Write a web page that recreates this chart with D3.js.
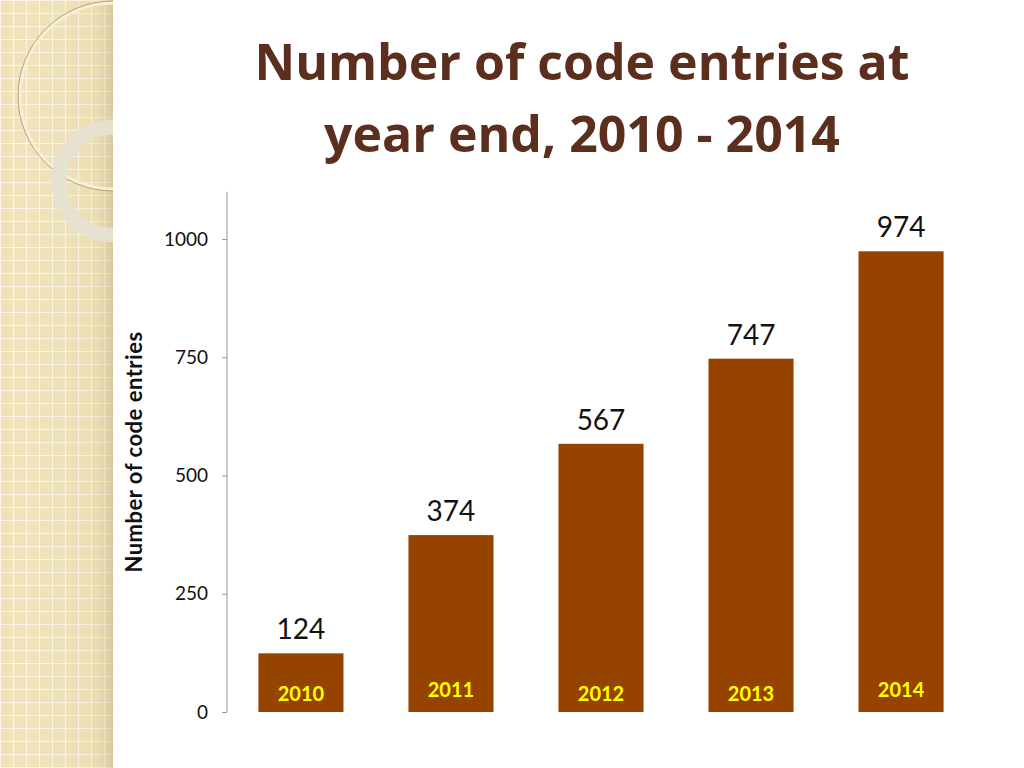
<!DOCTYPE html>
<html><head><meta charset="utf-8">
<script src="https://cdn.jsdelivr.net/npm/d3@7"></script>
<style>body{margin:0;background:#fff}svg{display:block}</style>
</head><body>
<div id="chart"></div>
<script>
// data
const years = ["2010", "2011", "2012", "2013", "2014"];
const entries = [124, 374, 567, 747, 974];
const yTicks = [0, 250, 500, 750, 1000];
const yearLabelShift = [0, -4, 0, 0, -4];

const svg = d3.select("#chart").append("svg")
    .attr("width", 1024).attr("height", 768);

// Decorative left strip
const defs = svg.append("defs");
const grid = defs.append("pattern").attr("id", "grid")
    .attr("width", 13).attr("height", 13).attr("patternUnits", "userSpaceOnUse");
grid.append("rect").attr("width", 13).attr("height", 13).attr("fill", "#efe2b9");
grid.append("path").attr("d", "M0 0.5H13M0.5 0V13").attr("stroke", "#fbf6e6").attr("stroke-width", 1.2);
const shade = defs.append("linearGradient").attr("id", "shade");
shade.append("stop").attr("offset", "0%").attr("stop-color", "#fff").attr("stop-opacity", 0);
shade.append("stop").attr("offset", "85%").attr("stop-color", "#d8c896").attr("stop-opacity", 0.2);
shade.append("stop").attr("offset", "100%").attr("stop-color", "#b9a878").attr("stop-opacity", 0.45);
svg.append("rect").attr("width", 113).attr("height", 768).attr("fill", "url(#grid)");
svg.append("rect").attr("width", 113).attr("height", 768).attr("fill", "url(#shade)");
const deco = svg.append("g");
deco.append("circle").attr("cx", 113).attr("cy", 96).attr("r", 93)
    .attr("fill", "none").attr("stroke", "#f7efd4").attr("stroke-width", 3);
deco.append("circle").attr("cx", 113).attr("cy", 96).attr("r", 95)
    .attr("fill", "none").attr("stroke", "#b9a57a").attr("stroke-width", 1);
deco.append("circle").attr("cx", 113).attr("cy", 181).attr("r", 54)
    .attr("fill", "none").attr("stroke", "#e6e1d3").attr("stroke-width", 15).attr("opacity", 0.9);
svg.append("rect").attr("x", 113).attr("width", 911).attr("height", 768).attr("fill", "#fff");

// Title
[["Number of code entries at", 80], ["year end, 2010 - 2014", 152]].forEach(([t, ty]) => {
    svg.append("text").attr("x", 582).attr("y", ty).attr("text-anchor", "middle")
        .style("font-family", "'Open Sans', sans-serif").style("font-weight", "bold")
        .style("font-size", "50px").attr("fill", "#5b2e1e").text(t);
});

// Scales
const x = d3.scaleBand().domain(years).range([226, 976])
    .paddingInner(0.433).paddingOuter(0.216);
const y = d3.scaleLinear().domain([0, 1000]).range([712, 239]);

// Axis
const axis = svg.append("g").attr("transform", "translate(227,0)")
    .call(d3.axisLeft(y).tickValues(yTicks).tickFormat(d3.format("d")).tickSize(5).tickPadding(14));
axis.select(".domain").remove();
axis.append("line").attr("y1", y(1100)).attr("y2", y(0)).attr("stroke", "#999");
axis.selectAll(".tick line").attr("stroke", "#999");
axis.selectAll(".tick text").style("font-family", "Lato, sans-serif")
    .style("font-size", "19px").attr("fill", "#111");

svg.append("text").attr("transform", "translate(142,452) rotate(-90)")
    .attr("text-anchor", "middle").style("font-family", "Lato, sans-serif")
    .style("font-size", "22px").style("font-weight", "bold").style("letter-spacing", "0.5px")
    .attr("fill", "#111").text("Number of code entries");

// Bars
svg.selectAll(".bar").data(entries).enter().append("rect")
    .attr("x", (d, i) => x(years[i])).attr("width", x.bandwidth())
    .attr("y", d => y(d)).attr("height", d => y(0) - y(d))
    .attr("fill", "#974300");

svg.selectAll(".val").data(entries).enter().append("text")
    .attr("x", (d, i) => x(years[i]) + x.bandwidth() / 2)
    .attr("y", d => y(d) - 14).attr("text-anchor", "middle")
    .style("font-family", "Lato, sans-serif").style("font-size", "28px")
    .attr("fill", "#111").text(d => d);

svg.selectAll(".yr").data(years).enter().append("text")
    .attr("x", d => x(d) + x.bandwidth() / 2)
    .attr("y", (d, i) => 701 + yearLabelShift[i]).attr("text-anchor", "middle")
    .style("font-family", "Lato, sans-serif").style("font-weight", "bold")
    .style("font-size", "20px").attr("fill", "#ffff00").text(d => d);
</script>
</body></html>
